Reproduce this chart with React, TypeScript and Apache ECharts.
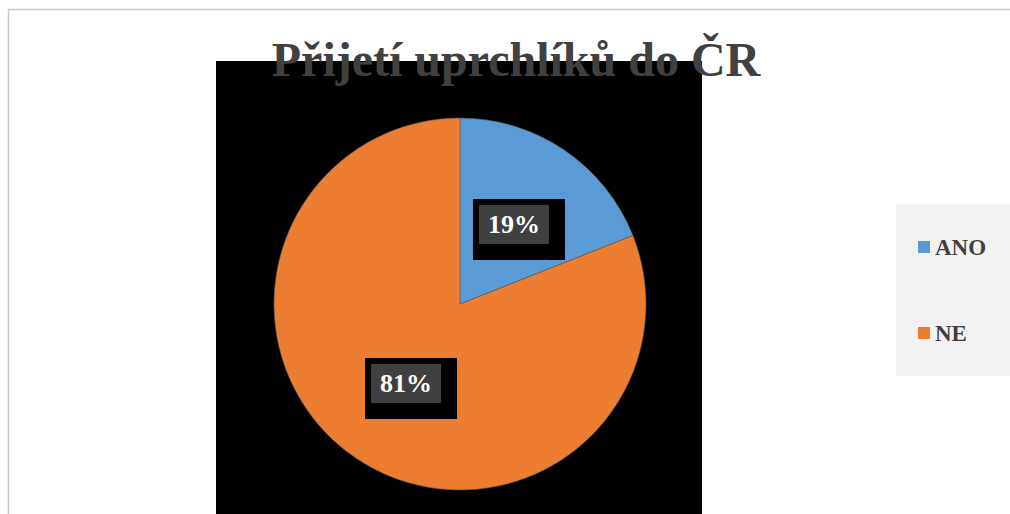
import React, { useEffect, useRef } from "react";
import * as echarts from "echarts";

const categories = ["ANO", "NE"];
const values = [19, 81];
const colors = ["#5b9bd5", "#ed7d31"];
const titleText = "Přijetí uprchlíků do ČR";

export default function App() {
  const ref = useRef<HTMLDivElement>(null);
  useEffect(() => {
    const chart = echarts.init(ref.current!, null, { renderer: "svg" });
    chart.setOption({
      animation: false,
      backgroundColor: "#ffffff",
      color: colors,
      graphic: [
        {
          type: "rect",
          z: -10,
          silent: true,
          shape: { x: 8.5, y: 9.5, width: 1100, height: 600 },
          style: { fill: "#ffffff", stroke: "#c9c9c9", lineWidth: 1.5 },
        },
        {
          type: "rect",
          z: -9,
          silent: true,
          shape: { x: 216, y: 61, width: 486, height: 500 },
          style: { fill: "#000000" },
        },
        {
          type: "rect",
          z: -9,
          silent: true,
          shape: { x: 896, y: 204, width: 200, height: 172 },
          style: { fill: "#f2f2f2" },
        },
        {
          type: "text",
          z: 100,
          x: 516,
          y: 59,
          style: {
            text: titleText,
            font: "bold 48px 'Liberation Serif'",
            fill: "#404040",
            align: "center",
            verticalAlign: "middle",
            textAlign: "center",
            textVerticalAlign: "middle",
          },
        },
      ],
      legend: {
        orient: "vertical",
        left: 918,
        top: 235,
        padding: 0,
        itemWidth: 12,
        itemHeight: 12,
        itemGap: 62,
        icon: "rect",
        data: categories,
        itemStyle: { borderWidth: 0 },
        textStyle: {
          fontFamily: "'Liberation Serif'",
          fontWeight: "bold",
          fontSize: 23,
          lineHeight: 24,
          color: "#404040",
        },
      },
      series: [
        {
          type: "pie",
          center: [460, 304],
          radius: 186,
          startAngle: 90,
          clockwise: true,
          data: categories.map((n, i) => ({ name: n, value: values[i] })),
          itemStyle: { borderColor: "rgba(90,90,90,0.8)", borderWidth: 0.75 },
          labelLine: { show: false },
          emphasis: { disabled: true },
          label: {
            show: true,
            position: "inside",
            formatter: (p: any) => `{a|${Math.round(p.percent)}%}`,
            backgroundColor: "#000000",
            padding: [6, 16, 16, 6],
            offset: [5, 5],
            lineHeight: 39,
            rich: {
              a: {
                backgroundColor: "#404040",
                width: 70,
                height: 39,
                lineHeight: 39,
                align: "center",
                verticalAlign: "middle",
                color: "#ffffff",
                fontSize: 26,
                fontWeight: "bold",
                fontFamily: "'Liberation Serif'",
              },
            },
          },
        },
      ],
    });
    return () => chart.dispose();
  }, []);
  return (
    <div
      ref={ref}
      style={{ position: "fixed", left: 0, top: 0, width: 1010, height: 514 }}
    />
  );
}
